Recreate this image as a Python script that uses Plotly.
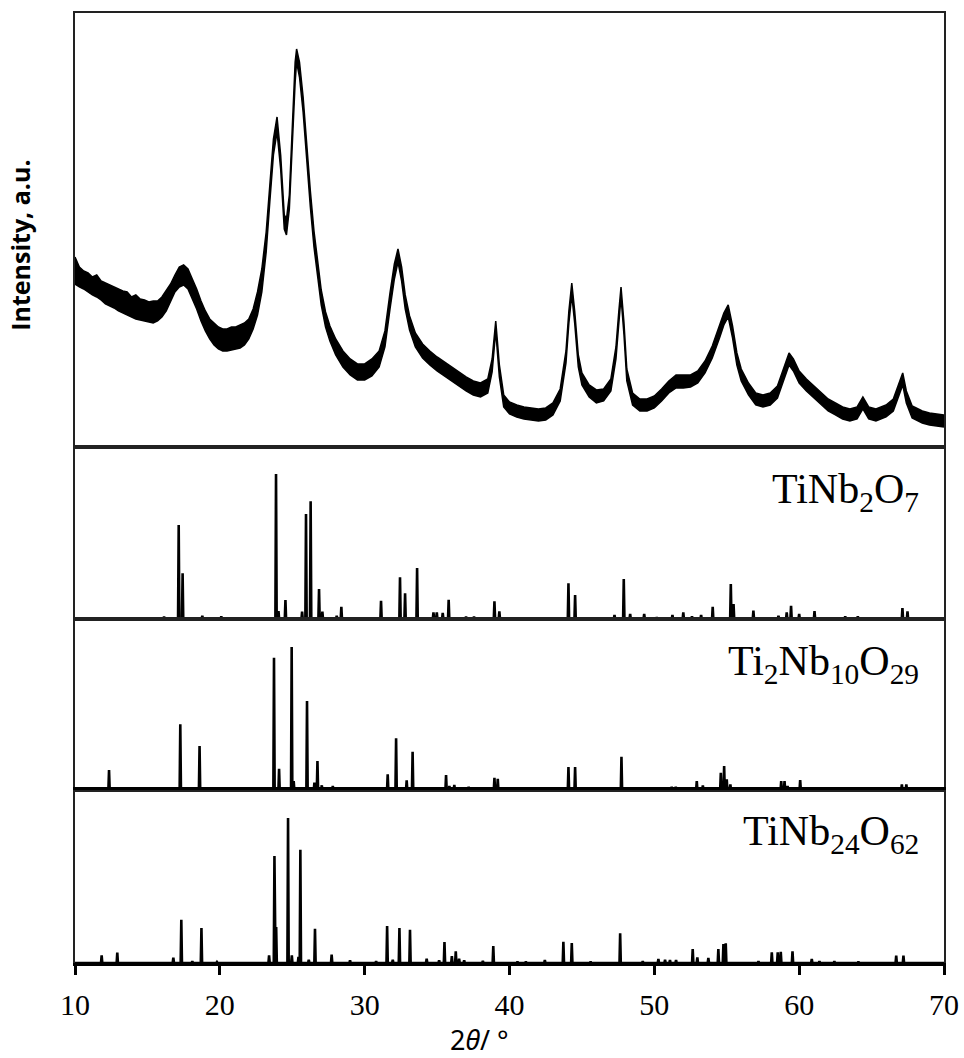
import plotly.graph_objects as go

# ---------------- data ----------------
# measured pattern (band: lower / upper edge of the noisy trace), arbitrary units
meas_2theta = [10.0, 10.3, 10.6, 10.9, 11.2, 11.5, 11.8, 12.1, 12.4, 12.7, 13.0, 13.3, 13.6, 13.9,
               14.2, 14.5, 14.8, 15.1, 15.4, 15.7, 16.0, 16.3, 16.6, 16.9, 17.2, 17.5, 17.8, 18.1,
               18.4, 18.7, 19.0, 19.3, 19.6, 19.9, 20.2, 20.5, 20.8, 21.1, 21.4, 21.7, 22.0, 22.3,
               22.6, 22.9, 23.2, 23.45, 23.7, 23.95, 24.2, 24.45, 24.6, 24.8, 25.0, 25.2, 25.3, 25.5,
               25.75, 26.0, 26.25, 26.5, 26.75, 27.0, 27.3, 27.6, 28.0, 28.5, 29.0, 29.5, 30.0, 30.5,
               31.0, 31.4, 31.75, 32.05, 32.3, 32.55, 32.8, 33.1, 33.5, 34.0, 34.5, 35.0, 35.5, 36.0,
               36.5, 37.0, 37.5, 38.0, 38.5, 38.8, 39.05, 39.3, 39.6, 40.0, 40.5, 41.0, 41.5, 42.0,
               42.5, 43.0, 43.5, 43.9, 44.1, 44.3, 44.5, 44.75, 45.0, 45.5, 46.0, 46.5, 47.0, 47.35,
               47.55, 47.7, 47.9, 48.1, 48.5, 49.0, 49.5, 50.0, 50.5, 51.0, 51.5, 52.0, 52.5, 53.0,
               53.5, 54.0, 54.5, 54.8, 55.1, 55.4, 55.7, 56.0, 56.5, 57.0, 57.5, 58.0, 58.5, 59.0,
               59.3, 59.6, 60.0, 60.5, 61.0, 61.5, 62.0, 62.5, 63.0, 63.5, 64.0, 64.4, 64.8, 65.3,
               66.0, 66.5, 66.9, 67.15, 67.4, 67.8, 68.5, 69.0, 69.5, 70.0]
meas_low = [163, 160, 158, 155, 152, 150, 147, 143, 141, 139, 136, 134, 132, 130,
            128, 127, 126, 125, 124, 126, 130, 136, 145, 155, 160, 162, 158, 148,
            138, 126, 116, 108, 102, 98, 96, 96, 97, 98, 99, 102, 108, 118,
            132, 155, 195, 245, 292, 315, 278, 218, 212, 238, 305, 365, 385, 370,
            335, 285, 240, 200, 170, 142, 120, 106, 92, 80, 72, 67, 67, 71,
            80, 100, 138, 168, 185, 166, 138, 117, 100, 89, 82, 76, 71, 66,
            61, 56, 52, 50, 54, 75, 116, 70, 40, 33, 30, 28, 27, 26,
            27, 32, 46, 84, 124, 152, 124, 80, 62, 50, 44, 46, 56, 88,
            124, 150, 113, 66, 42, 36, 36, 39, 46, 54, 59, 59, 60, 64,
            74, 89, 109, 122, 130, 109, 82, 66, 52, 42, 40, 42, 49, 69,
            82, 76, 64, 56, 49, 42, 36, 32, 28, 26, 28, 38, 28, 26,
            30, 36, 52, 62, 44, 29, 24, 22, 21, 20]
meas_high = [190, 180, 176, 174, 170, 172, 166, 164, 162, 160, 158, 156, 155, 150,
             152, 148, 147, 145, 146, 146, 150, 156, 163, 172, 180, 182, 178, 168,
             158, 146, 136, 128, 124, 120, 118, 118, 120, 120, 122, 124, 128, 138,
             155, 178, 215, 262, 308, 330, 292, 232, 228, 252, 320, 385, 398, 385,
             350, 300, 256, 216, 185, 157, 135, 121, 108, 96, 88, 83, 83, 88,
             96, 116, 154, 183, 198, 180, 152, 131, 114, 103, 96, 90, 85, 80,
             75, 70, 66, 64, 68, 88, 126, 82, 52, 45, 42, 40, 39, 38,
             39, 44, 58, 96, 136, 164, 136, 92, 74, 62, 57, 58, 68, 100,
             136, 160, 125, 78, 54, 48, 48, 51, 58, 66, 72, 72, 72, 76,
             86, 101, 121, 134, 142, 121, 94, 78, 64, 54, 52, 54, 61, 81,
             94, 88, 76, 68, 61, 54, 48, 44, 40, 38, 40, 50, 40, 38,
             42, 48, 64, 74, 56, 41, 36, 34, 33, 32]

# reference stick patterns (peak positions, relative heights)
tnb_pos = [16.15, 17.16, 17.43, 18.79, 20.1, 23.88, 24.05, 24.53, 25.68, 25.95, 26.27, 26.85,
           27.08, 28.07, 28.39, 31.13, 32.44, 32.79, 33.62, 34.75, 34.98, 35.39, 35.8, 37.0,
           37.55, 38.96, 39.3, 44.07, 44.53, 47.25, 47.89, 48.33, 49.3, 50.17, 51.25, 52.0,
           52.6, 53.23, 54.03, 55.28, 55.47, 56.84, 58.57, 59.14, 59.44, 60.0, 61.06, 63.18,
           64.05, 67.13, 67.48]
tnb_int = [2.3, 94, 45.7, 3.3, 2.7, 145, 8, 19, 7.3, 105, 117.7, 30,
           7.3, 3.3, 12.3, 18.3, 41.7, 25.7, 51, 6.7, 6.7, 6, 19.3, 2.3,
           2.3, 17.7, 7.7, 35.7, 24, 4, 40, 5, 5, 1.7, 4, 6.7,
           2.7, 4, 12.3, 35, 15, 8.3, 3.3, 6.7, 13.3, 5, 8, 2.7,
           2.7, 11, 7.7]

t2n10_pos = [12.35, 17.27, 18.6, 23.74, 24.09, 24.96, 25.1, 26.02, 26.53, 26.74, 27.04, 27.8,
             29.38, 31.34, 31.59, 32.17, 32.9, 33.31, 35.05, 35.62, 35.85, 36.19, 36.53, 37.18,
             37.85, 38.96, 39.19, 44.07, 44.53, 47.73, 51.2, 51.48, 52.93, 53.35, 54.59, 54.82,
             55.0, 55.25, 57.35, 58.76, 58.99, 59.2, 60.07, 60.99, 62.2, 64.27, 67.09, 67.4]
t2n10_int = [20, 65.7, 44, 132.3, 21.3, 143, 9, 89, 7.3, 29, 4.7, 4,
             2, 2.3, 15.7, 51.7, 9.7, 38.3, 2, 15, 4, 5, 2.3, 3.3,
             2.3, 12.3, 11.3, 23, 23, 33.3, 3.3, 3.3, 9, 4.7, 17.3, 24,
             10.7, 5.7, 1.3, 9, 9, 4, 10, 2.3, 2.3, 1.3, 5.7, 5.7]

tn24_pos = [11.84, 12.92, 16.79, 17.34, 18.1, 18.73, 19.8, 23.4, 23.77, 23.89, 24.71, 24.97,
            25.43, 25.56, 26.14, 26.57, 27.72, 28.99, 30.79, 31.55, 31.94, 32.4, 33.13, 34.28,
            35.14, 35.51, 36.02, 36.29, 36.52, 36.87, 38.16, 38.88, 40.55, 41.13, 42.44, 43.72,
            44.3, 45.6, 47.64, 49.2, 50.28, 50.74, 51.08, 51.5, 52.65, 52.97, 53.73, 54.42,
            54.77, 54.93, 57.19, 58.11, 58.52, 58.73, 59.54, 60.87, 61.4, 62.43, 64.09, 66.7,
            67.2]
tn24_int = [7.7, 10.3, 5.3, 43.3, 1.7, 35, 1, 7.7, 107, 36, 145, 7.7,
            6, 113.3, 3.3, 34.3, 8.3, 2.7, 1.7, 37, 3.3, 35, 33.3, 4.3,
            2.7, 21, 7, 11.7, 4.3, 2.7, 2, 17, 1.3, 1.3, 3, 21.3,
            20, 1.3, 29.7, 1.7, 4, 3.3, 3, 3, 14, 5.7, 5, 14,
            19, 19.7, 1.7, 10.7, 10.7, 11.3, 11.7, 4, 1.7, 1.7, 1.3, 7.3,
            7.3]

phase_labels = ["TiNb<sub>2</sub>O<sub>7</sub>",
                "Ti<sub>2</sub>Nb<sub>10</sub>O<sub>29</sub>",
                "TiNb<sub>24</sub>O<sub>62</sub>"]
x_ticks = [10, 20, 30, 40, 50, 60, 70]


def stick_profile(pos, inten, half=0.045):
    xs, ys = [10.0], [0.0]
    for p, h in sorted(zip(pos, inten)):
        xs += [p - half, p, p + half]
        ys += [0.0, h, 0.0]
    xs.append(70.0)
    ys.append(0.0)
    return xs, ys


fig = go.Figure()

# measured pattern band
fig.add_trace(go.Scatter(x=meas_2theta, y=meas_low, mode="lines",
                         line=dict(color="black", width=1.5), xaxis="x", yaxis="y",
                         showlegend=False, hoverinfo="skip"))
fig.add_trace(go.Scatter(x=meas_2theta, y=meas_high, mode="lines",
                         line=dict(color="black", width=1.5), fill="tonexty",
                         fillcolor="black", xaxis="x", yaxis="y",
                         showlegend=False, hoverinfo="skip"))

for i, (pos, inten) in enumerate([(tnb_pos, tnb_int), (t2n10_pos, t2n10_int),
                                  (tn24_pos, tn24_int)]):
    xs, ys = stick_profile(pos, inten)
    fig.add_trace(go.Scatter(x=xs, y=ys, mode="lines",
                             line=dict(color="black", width=2.6),
                             xaxis=f"x{i + 2}", yaxis=f"y{i + 2}",
                             showlegend=False, hoverinfo="skip"))

# domains (paper fractions, from bottom)
doms = [[0.5432, 1.0], [0.3621, 0.5432], [0.1821, 0.3621], [0.0, 0.1821]]
yranges = [[0, 434], [0, 172], [0, 171], [0, 173]]

frame = dict(showline=True, linecolor="#222", linewidth=2, mirror=True,
             showgrid=False, zeroline=False, automargin=False)

layout = dict(
    width=964, height=1058, autosize=False,
    margin=dict(l=75, r=20, t=13, b=95, pad=0),
    paper_bgcolor="white", plot_bgcolor="white",
    showlegend=False,
)
for i in range(4):
    xa = "xaxis" if i == 0 else f"xaxis{i + 1}"
    ya = "yaxis" if i == 0 else f"yaxis{i + 1}"
    yid = "y" if i == 0 else f"y{i + 1}"
    xid = "x" if i == 0 else f"x{i + 1}"
    xdict = dict(frame, range=[10, 70], domain=[0, 1], anchor=yid, showticklabels=False,
                 ticks="")
    if i == 3:
        xdict.update(dict(showticklabels=True, ticks="outside", ticklen=9, tickwidth=2.5,
                          tickcolor="black", linecolor="black", linewidth=3,
                          tickvals=x_ticks, ticklabelstandoff=4,
                          tickfont=dict(family="Liberation Serif", size=30, color="black")))
    else:
        xdict["matches"] = "x4"
    layout[xa] = xdict
    layout[ya] = dict(frame, range=yranges[i], domain=doms[i], anchor=xid,
                      showticklabels=False, ticks="")

fig.update_layout(**layout)

# phase labels
label_y = [0.74, 0.735, 0.745]
for i, lab in enumerate(phase_labels):
    yid = f"y{i + 2}"
    fig.add_annotation(text=lab, xref="paper", x=0.974, xanchor="right",
                       yref=f"{yid} domain", y=label_y[i], yanchor="middle",
                       showarrow=False,
                       font=dict(family="Liberation Serif", size=42, color="black"))

# axis titles
fig.add_annotation(text="2<i>θ</i>/ °", xref="paper", x=0.466, xanchor="center",
                   yref="paper", y=-0.081, yanchor="middle", showarrow=False,
                   font=dict(family="Noto Sans", size=27, color="black"))
fig.add_annotation(text="<b>Intensity, a.u.</b>", xref="paper", x=-0.0633, xanchor="center",
                   yref="paper", y=0.756, yanchor="middle", textangle=-90, showarrow=False,
                   font=dict(family="Open Sans", size=25, color="black"))

fig.write_html("out.html")
